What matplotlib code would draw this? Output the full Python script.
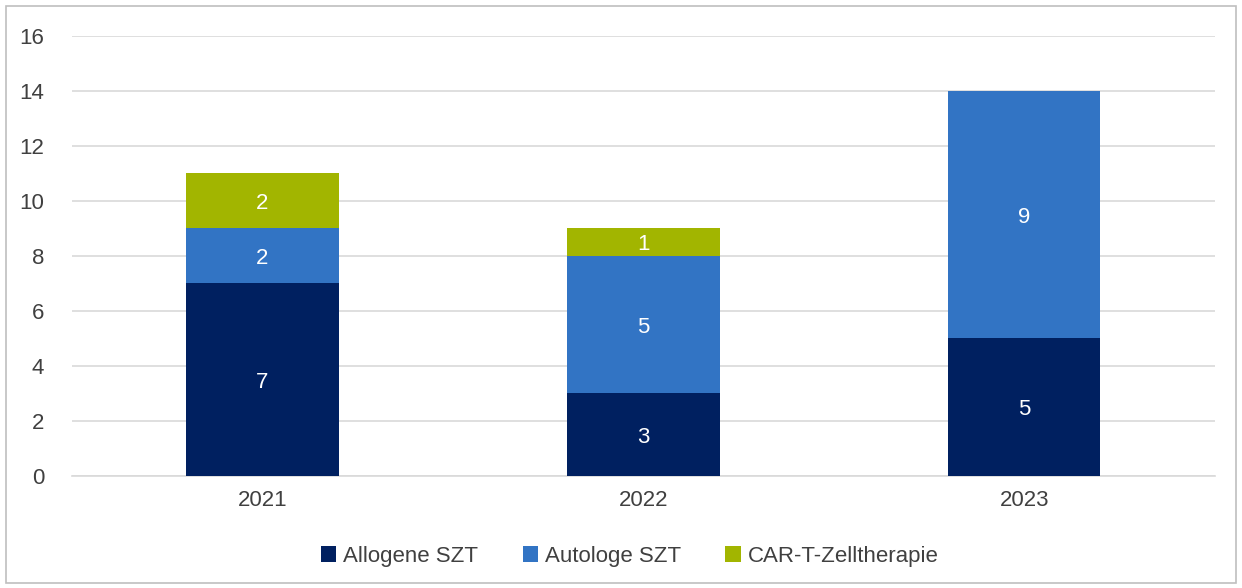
import numpy as np
import matplotlib.pyplot as plt
from matplotlib.patches import Rectangle

plt.rcParams['font.family'] = ['Liberation Sans', 'DejaVu Sans']

years = ['2021', '2022', '2023']
allogen = [7, 3, 5]
autolog = [2, 5, 9]
car_t = [2, 1, 0]

series = [
    ('Allogene SZT', allogen, '#002060'),
    ('Autologe SZT', autolog, '#3274C4'),
    ('CAR-T-Zelltherapie', car_t, '#A2B500'),
]

fig = plt.figure(figsize=(12.42, 5.88), dpi=100)
ax = fig.add_axes([0.058, 0.1905, 0.92, 0.7483])

# Rahmen um die ganze Grafik
fig.patches.append(Rectangle((0.005, 0.008), 0.990, 0.982, transform=fig.transFigure,
                             fill=False, edgecolor='#BFBFBF', linewidth=1.2))

x = np.arange(len(years))
bottom = np.zeros(len(years))
for name, vals, col in series:
    vals = np.array(vals, dtype=float)
    ax.bar(x, vals, width=0.4, bottom=bottom, color=col, label=name, zorder=3)
    for xi, b, v in zip(x, bottom, vals):
        if v > 0:
            ax.text(xi, b + v / 2, f'{int(v)}', ha='center', va='center_baseline',
                    color='white', fontsize=16, zorder=4)
    bottom += vals

ax.set_xlim(-0.5, 2.5)
ax.set_ylim(0, 16)
ax.set_yticks(range(0, 17, 2))
ax.set_xticks(x)
ax.set_xticklabels(years)
ax.grid(axis='y', color='#D9D9D9', linewidth=1.2, zorder=0)
for s in ['top', 'right', 'left']:
    ax.spines[s].set_visible(False)
ax.spines['bottom'].set_color('#D9D9D9')
ax.spines['bottom'].set_linewidth(1.2)
ax.tick_params(axis='both', length=0, labelsize=16, colors='#404040')
ax.tick_params(axis='y', pad=20)
ax.tick_params(axis='x', pad=10)

ax.legend(loc='center', bbox_to_anchor=(0.488, -0.182), ncol=3, frameon=False,
          fontsize=16, labelcolor='#404040', handlelength=0.7, handleheight=0.7,
          handletextpad=0.3, columnspacing=2.0)

fig.savefig('out.png', dpi=100)
